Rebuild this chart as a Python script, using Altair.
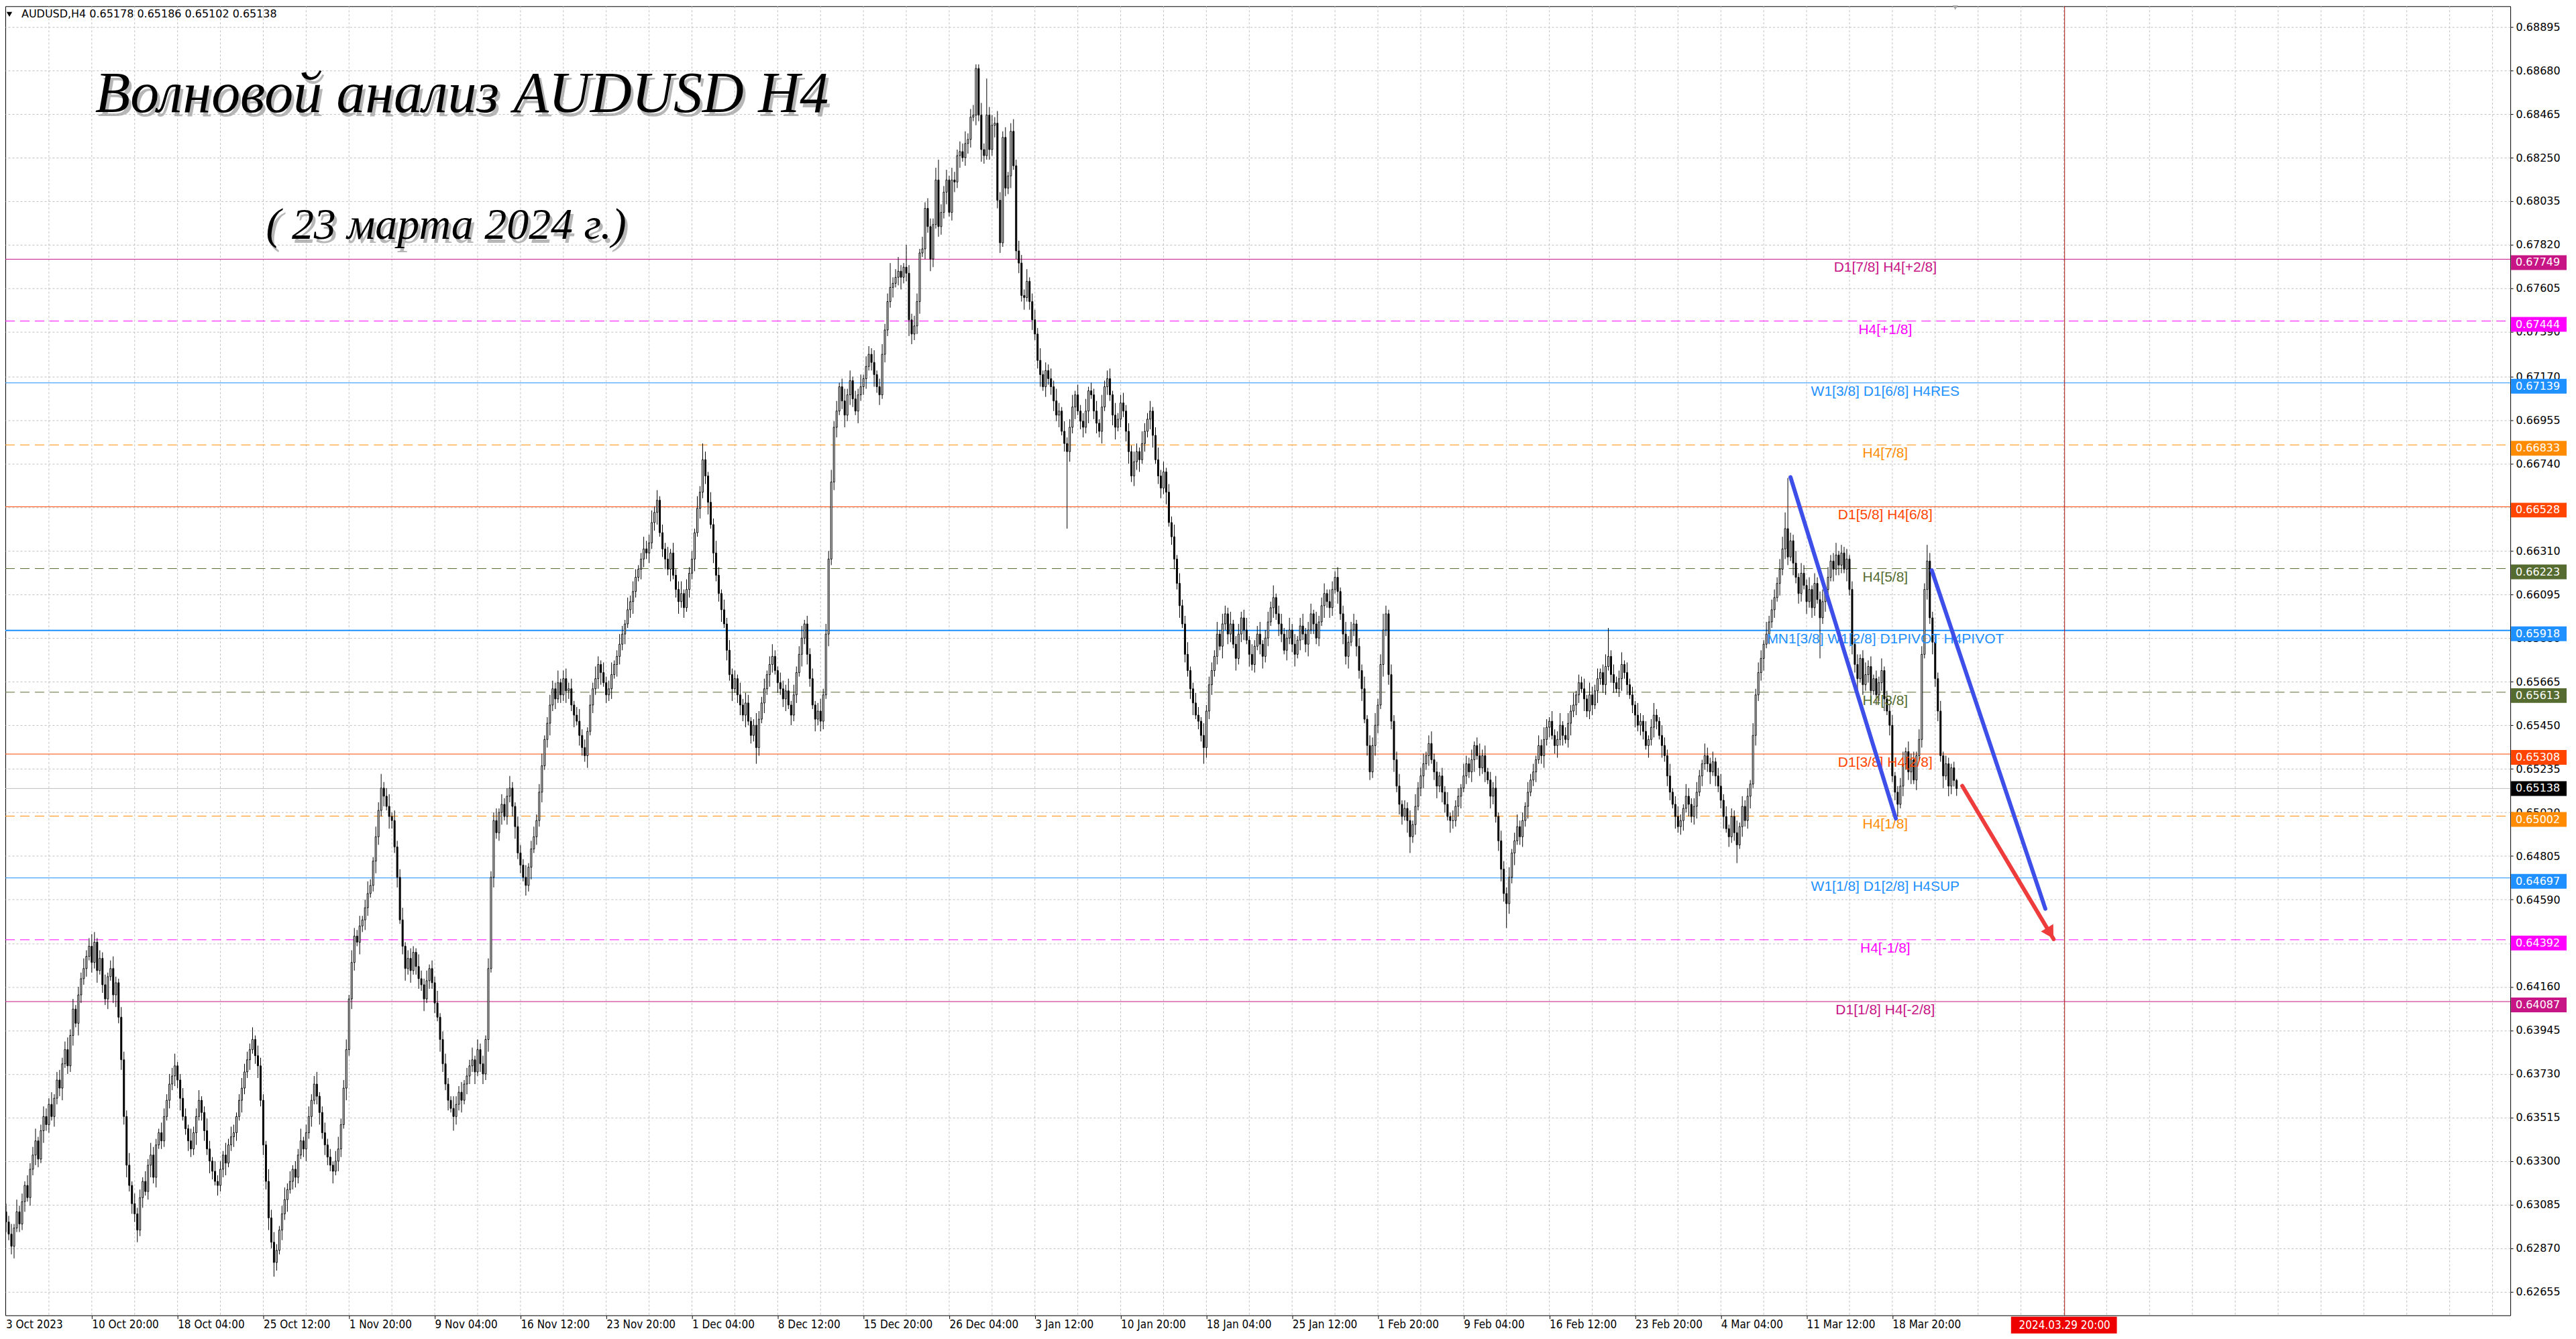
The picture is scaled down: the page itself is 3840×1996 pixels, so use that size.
import altair as alt
import pandas as pd

# ---------------- data (prices in pips, 1 pip = 0.0001) ----------------
OPEN0 = 6305
CLOSE_W = [
    [6300, 6294, 6288, 6297, 6305, 6299, 6310, 6318, 6312, 6326, 6333, 6340, 6331, 6345, 6352, 6348, 6358, 6352, 6361, 6370, 6366, 6378, 6385, 6377, 6392, 6405, 6398, 6412, 6420, 6425],
    [6431, 6436, 6428, 6438, 6424, 6430, 6417, 6410, 6421, 6425, 6412, 6418, 6401, 6380, 6352, 6328, 6318, 6309, 6304, 6296, 6312, 6320, 6315, 6328, 6333, 6322, 6338, 6344, 6340, 6352],
    [6360, 6368, 6372, 6377, 6370, 6361, 6352, 6346, 6340, 6336, 6344, 6352, 6360, 6354, 6345, 6336, 6330, 6325, 6320, 6318, 6326, 6333, 6329, 6338, 6342, 6344, 6352, 6360, 6366, 6374],
    [6380, 6385, 6390, 6382, 6377, 6360, 6338, 6320, 6302, 6290, 6280, 6286, 6296, 6304, 6311, 6316, 6320, 6326, 6322, 6333, 6340, 6336, 6344, 6352, 6360, 6368, 6362, 6354, 6344, 6338],
    [6332, 6328, 6325, 6330, 6336, 6348, 6366, 6385, 6410, 6428, 6441, 6438, 6446, 6449, 6455, 6462, 6466, 6478, 6490, 6503, 6514, 6510, 6505, 6500, 6498, 6485, 6470, 6449, 6436, 6425],
    [6430, 6424, 6433, 6426, 6420, 6417, 6410, 6419, 6425, 6418, 6408, 6401, 6390, 6378, 6368, 6360, 6356, 6352, 6358, 6364, 6360, 6368, 6372, 6377, 6380, 6374, 6385, 6378, 6373, 6390],
    [6425, 6470, 6498, 6492, 6502, 6506, 6500, 6510, 6514, 6505, 6495, 6482, 6476, 6470, 6466, 6475, 6484, 6490, 6498, 6512, 6525, 6538, 6546, 6555, 6563, 6558, 6566, 6560, 6568, 6562],
    [6563, 6555, 6550, 6547, 6540, 6534, 6530, 6542, 6555, 6563, 6568, 6575, 6571, 6566, 6560, 6563, 6570, 6575, 6579, 6585, 6590, 6595, 6602, 6606, 6611, 6618, 6622, 6627, 6632, 6630],
    [6635, 6645, 6650, 6656, 6640, 6632, 6627, 6622, 6630, 6619, 6612, 6606, 6610, 6603, 6612, 6620, 6627, 6640, 6652, 6660, 6676, 6668, 6655, 6644, 6630, 6619, 6610, 6602, 6595, 6582],
    [6570, 6563, 6568, 6560, 6555, 6550, 6556, 6547, 6540, 6545, 6534, 6548, 6556, 6563, 6570, 6575, 6579, 6572, 6566, 6563, 6558, 6562, 6555, 6550, 6560, 6571, 6580, 6588, 6595, 6580],
    [6568, 6555, 6548, 6552, 6547, 6560, 6590, 6627, 6665, 6692, 6700, 6712, 6705, 6698, 6708, 6715, 6706, 6700, 6708, 6712, 6716, 6722, 6728, 6724, 6718, 6712, 6708, 6728, 6740, 6754],
    [6761, 6763, 6766, 6769, 6766, 6771, 6768, 6745, 6738, 6742, 6754, 6778, 6780, 6800, 6791, 6775, 6792, 6814, 6791, 6798, 6808, 6814, 6798, 6814, 6813, 6826, 6828, 6825, 6832, 6834],
    [6845, 6846, 6869, 6846, 6829, 6826, 6846, 6829, 6841, 6842, 6804, 6783, 6835, 6810, 6816, 6838, 6821, 6779, 6773, 6757, 6756, 6764, 6754, 6745, 6738, 6725, 6718, 6712, 6720, 6716],
    [6712, 6705, 6698, 6700, 6690, 6684, 6680, 6692, 6702, 6708, 6700, 6695, 6692, 6700, 6710, 6708, 6700, 6694, 6690, 6702, 6712, 6716, 6708, 6698, 6692, 6696, 6704, 6700, 6690, 6680],
    [6668, 6675, 6680, 6676, 6684, 6690, 6696, 6700, 6688, 6676, 6668, 6662, 6670, 6660, 6645, 6638, 6627, 6615, 6604, 6595, 6580, 6572, 6563, 6556, 6550, 6547, 6540, 6534, 6552, 6565],
    [6572, 6579, 6590, 6584, 6595, 6600, 6590, 6595, 6585, 6578, 6590, 6598, 6592, 6587, 6580, 6575, 6584, 6590, 6585, 6579, 6588, 6596, 6603, 6608, 6600, 6595, 6590, 6582, 6588, 6592],
    [6585, 6580, 6587, 6594, 6590, 6585, 6592, 6600, 6595, 6588, 6596, 6604, 6610, 6606, 6603, 6612, 6618, 6611, 6600, 6590, 6579, 6586, 6592, 6595, 6584, 6572, 6563, 6548, 6535, 6522],
    [6535, 6545, 6555, 6575, 6592, 6600, 6570, 6547, 6528, 6515, 6506, 6500, 6504, 6498, 6490, 6496, 6505, 6514, 6520, 6526, 6530, 6536, 6528, 6522, 6515, 6520, 6512, 6506, 6500, 6498],
    [6498, 6505, 6510, 6514, 6520, 6526, 6522, 6528, 6535, 6530, 6524, 6530, 6522, 6518, 6510, 6514, 6500, 6488, 6474, 6462, 6457, 6470, 6482, 6488, 6495, 6490, 6498, 6505, 6512, 6518],
    [6522, 6528, 6535, 6530, 6538, 6544, 6547, 6540, 6535, 6538, 6545, 6540, 6538, 6546, 6552, 6555, 6560, 6566, 6563, 6558, 6552, 6560, 6555, 6562, 6568, 6571, 6565, 6574, 6579, 6570],
    [6566, 6563, 6568, 6575, 6571, 6565, 6560, 6555, 6550, 6545, 6547, 6542, 6535, 6538, 6544, 6550, 6547, 6540, 6535, 6530, 6520, 6512, 6506, 6500, 6495, 6498, 6504, 6510, 6506, 6500],
    [6505, 6512, 6520, 6526, 6530, 6526, 6522, 6527, 6520, 6515, 6508, 6500, 6494, 6490, 6500, 6492, 6486, 6495, 6505, 6498, 6510, 6516, 6540, 6560, 6571, 6578, 6585, 6590, 6596, 6602],
    [6608, 6615, 6622, 6632, 6642, 6628, 6636, 6625, 6618, 6610, 6620, 6614, 6606, 6612, 6603, 6615, 6607, 6598, 6606, 6612, 6618, 6626, 6622, 6629, 6624, 6630, 6622, 6627, 6612, 6585],
    [6575, 6568, 6578, 6565, 6570, 6574, 6562, 6568, 6560, 6566, 6572, 6558, 6552, 6545, 6520, 6512, 6506, 6515, 6526, 6532, 6522, 6528, 6518, 6530, 6538, 6580, 6612, 6626, 6598, 6586],
    [6568, 6552, 6530, 6520, 6526, 6515, 6524, 6517.8, 6513.8],
]
UPPER_WICK_W = [
    [4,3,5,2,6,3,4,2,5,3, 4,6,2,3,5,4,3,6,2,4, 5,3,4,6,3,5,2,4,3,5],
    [3,4,6,5,2,4,3,5,2,4, 6,3,2,5,4,3,6,2,5,3, 4,2,5,3,6,4,3,2,5,4],
    [3,5,4,6,2,3,5,4,2,6, 3,4,5,2,3,6,4,2,5,3, 4,2,6,3,5,4,2,3,5,4],
    [4,3,6,2,5,4,3,2,6,4, 5,3,2,4,6,3,5,2,4,3, 6,2,4,5,3,4,6,2,3,5],
    [3,4,2,5,6,3,4,5,2,6, 4,3,5,2,4,6,3,2,5,4, 7,3,4,6,2,5,3,4,6,2],
    [4,5,3,2,6,4,3,5,2,4, 3,6,2,4,5,3,2,6,4,3, 5,2,4,3,6,2,5,3,4,2],
    [5,3,4,6,2,5,3,4,6,3, 2,5,4,3,6,2,4,5,3,4, 6,2,3,5,4,3,6,2,4,5],
    [3,5,2,4,6,3,4,2,5,3, 6,4,2,5,3,4,6,2,3,5, 4,2,6,3,5,4,2,3,6,4],
    [4,6,3,5,2,4,3,6,2,5, 3,4,6,2,5,3,4,2,6,3, 8,4,2,5,3,6,4,2,5,3],
    [5,3,4,2,6,3,5,4,2,3, 6,4,3,5,2,4,6,3,2,5, 4,3,6,2,5,3,4,6,2,4],
    [3,5,2,4,6,3,5,4,6,3, 5,2,4,6,3,5,2,4,3,6, 2,5,4,3,6,2,4,5,3,4],
    [12,3,4,7,3,2,11,4,3,5, 4,2,6,3,5,4,3,6,10,4, 3,5,2,6,4,3,5,4,6,3],
    [4,5,2,2,6,3,18,4,5,3, 6,4,3,5,2,4,6,3,5,4, 3,6,2,4,5,3,6,2,4,3],
    [5,3,6,4,2,5,3,4,6,2, 5,3,4,6,2,4,3,5,2,6, 3,4,5,2,6,3,4,5,3,4],
    [3,5,4,2,6,4,3,5,2,4, 6,3,5,2,4,3,6,2,5,3, 4,6,2,3,5,4,2,6,3,4],
    [4,3,6,2,5,4,3,6,2,4, 5,3,4,6,2,5,3,4,6,2, 4,5,3,6,2,4,5,3,4,6],
    [3,5,2,4,6,3,4,5,2,6, 3,4,5,2,6,4,3,5,2,4, 6,3,4,5,2,4,3,6,2,5],
    [4,6,3,5,8,4,2,5,3,4, 6,2,4,3,5,2,6,3,4,5, 2,4,6,3,5,2,4,3,6,2],
    [5,3,4,2,6,4,3,5,2,4, 6,3,5,2,4,3,6,2,5,4, 3,5,2,4,6,3,4,2,5,3],
    [4,2,5,3,6,4,2,5,3,4, 6,2,4,5,3,6,2,4,3,5, 2,6,4,3,5,2,4,6,14,3],
    [5,3,4,6,2,5,3,4,2,6, 4,3,5,2,4,6,3,2,5,4, 3,6,2,4,5,3,2,6,4,3],
    [4,5,3,2,6,4,3,5,2,4, 6,3,5,2,4,3,6,2,5,3, 4,2,6,3,5,4,2,6,3,5],
    [4,3,5,6,8,25,4,3,6,2, 5,4,3,6,2,5,3,4,6,2, 5,3,4,6,2,4,3,5,2,4],
    [3,5,2,4,6,3,5,2,4,3, 6,2,4,3,5,2,3,4,6,2, 5,3,4,2,5,4,3,8,4,3],
    [4,3,5,2,4,3,2,3,0.8],
]
LOWER_WICK_W = [
    [5,3,4,6,2,4,3,5,2,4, 3,5,4,2,6,3,4,2,5,3, 4,6,2,4,3,5,2,6,4,3],
    [4,2,5,3,6,2,4,3,5,2, 4,6,3,5,4,6,3,5,4,6, 3,5,2,4,6,3,5,2,4,3],
    [2,4,3,5,4,6,2,3,5,4, 3,6,2,4,5,3,6,4,2,5, 3,4,6,2,3,5,4,2,6,3],
    [3,5,2,4,6,3,5,4,6,3, 7,4,2,5,3,6,2,4,5,3, 2,4,6,3,5,2,4,6,3,5],
    [4,3,6,2,5,4,2,6,3,5, 4,2,6,3,5,4,2,3,6,4, 3,5,2,6,4,3,5,2,4,6],
    [3,6,2,4,5,3,6,2,4,3, 5,2,6,4,3,5,2,7,4,3, 6,2,5,4,3,6,2,4,5,3],
    [6,2,5,3,4,6,2,4,3,5, 6,3,4,2,5,3,6,2,4,3, 5,2,4,6,3,5,2,4,3,6],
    [4,3,6,2,5,4,3,6,2,4, 3,5,6,2,4,3,5,2,6,4, 3,5,2,4,6,3,2,5,4,3],
    [5,3,4,6,2,4,5,3,6,2, 4,6,3,5,2,4,3,6,2,5, 3,4,6,2,5,3,4,6,2,5],
    [3,6,2,4,5,3,6,2,4,3, 8,4,2,5,3,6,4,2,5,3, 4,6,2,5,3,4,2,6,3,5],
    [4,2,6,3,5,4,2,6,3,4, 5,2,4,6,3,5,4,2,6,3, 4,5,2,4,6,3,5,2,4,3],
    [3,5,2,4,6,3,4,8,5,3, 4,6,2,5,3,6,4,2,5,4, 3,6,2,4,5,3,6,2,4,5],
    [4,2,5,3,6,4,2,5,3,6, 4,5,2,4,3,6,2,4,5,3, 6,2,4,5,3,4,6,2,5,3],
    [4,5,3,6,2,4,38,5,3,6, 2,4,5,3,6,2,4,5,3,6, 2,4,3,5,6,2,4,3,5,6],
    [3,5,4,6,2,4,3,5,6,2, 4,5,3,6,2,4,5,3,6,2, 4,3,5,6,2,4,3,8,5,4],
    [5,3,4,2,6,3,5,4,2,6, 3,4,5,2,6,3,4,2,5,6, 3,4,2,5,3,6,4,2,5,3],
    [4,6,2,5,3,4,6,2,5,3, 4,2,6,3,5,4,2,6,3,5, 4,6,2,3,5,4,6,2,5,4],
    [3,5,4,2,6,3,5,4,6,3, 5,4,2,6,8,3,5,2,4,6, 3,5,2,4,6,3,5,4,2,6],
    [4,3,5,6,2,4,3,5,6,2, 4,3,5,2,6,4,3,5,6,4, 12,5,3,6,2,4,5,3,6,2],
    [3,5,2,4,6,3,5,2,4,6, 3,5,2,4,6,3,5,4,2,6, 3,4,5,2,6,3,4,5,2,4],
    [5,2,4,6,3,5,2,4,6,3, 5,4,2,6,3,5,4,2,6,3, 5,4,2,6,3,4,5,2,6,3],
    [4,6,2,5,3,4,6,2,5,3, 4,6,2,5,3,4,9,2,5,3, 4,6,2,5,3,4,6,2,5,3],
    [4,2,6,3,5,4,2,6,3,5, 4,2,6,3,5,4,2,20,3,5, 4,2,6,3,5,4,2,6,3,5],
    [4,6,2,5,3,4,6,2,5,3, 4,6,2,5,3,4,6,2,5,3, 4,6,2,5,3,4,2,5,3,6],
    [4,5,3,6,2,5,4,3,3.6],
]

DATE_LABELS = ["10 Oct 20:00", "18 Oct 04:00", "25 Oct 12:00", "1 Nov 20:00", "9 Nov 04:00",
               "16 Nov 12:00", "23 Nov 20:00", "1 Dec 04:00", "8 Dec 12:00", "15 Dec 20:00",
               "26 Dec 04:00", "3 Jan 12:00", "10 Jan 20:00", "18 Jan 04:00", "25 Jan 12:00",
               "1 Feb 20:00", "9 Feb 04:00", "16 Feb 12:00", "23 Feb 20:00", "4 Mar 04:00",
               "11 Mar 12:00", "18 Mar 20:00"]
FIRST_DATE = "3 Oct 2023"
BARS_PER_LABEL = 32

PRICE_TICKS = [0.68895, 0.68680, 0.68465, 0.68250, 0.68035, 0.67820, 0.67605, 0.67390, 0.67170,
               0.66955, 0.66740, 0.66525, 0.66310, 0.66095, 0.65880, 0.65665, 0.65450, 0.65235,
               0.65020, 0.64805, 0.64590, 0.64375, 0.64160, 0.63945, 0.63730, 0.63515, 0.63300,
               0.63085, 0.62870, 0.62655]

LEVEL_PRICE = [0.67749, 0.67444, 0.67139, 0.66833, 0.66528, 0.66223, 0.65918, 0.65613,
               0.65308, 0.65002, 0.64697, 0.64392, 0.64087]
LEVEL_TEXT = ["D1[7/8] H4[+2/8]", "H4[+1/8]", "W1[3/8] D1[6/8] H4RES", "H4[7/8]",
              "D1[5/8] H4[6/8]", "H4[5/8]", "MN1[3/8] W1[2/8] D1PIVOT H4PIVOT", "H4[3/8]",
              "D1[3/8] H4[2/8]", "H4[1/8]", "W1[1/8] D1[2/8] H4SUP", "H4[-1/8]", "D1[1/8] H4[-2/8]"]
LAST_PRICE = 0.65138
HEADER = "AUDUSD,H4  0.65178 0.65186 0.65102 0.65138"
TITLE = "Волновой анализ AUDUSD H4"
SUBTITLE = "( 23 марта 2024 г.)"
VLINE_BAR = [768.3]
VLINE_LABEL = "2024.03.29 20:00"
SHIFT_MARK_BAR = [727.5]

TREND1_BAR = [666.0, 705.3]
TREND1_PRICE = [0.66674, 0.64990]
TREND2_BAR = [718.7, 761.1]
TREND2_PRICE = [0.66215, 0.64545]
ARROW_BAR = [730.1, 764.2]
ARROW_PRICE = [0.65151, 0.64395]

# ---------------- styles ----------------
LEVEL_COLORS = ["#C71585", "#FF00FF", "#1E90FF", "#FF8C00", "#FF4500", "#556B2F", "#1E90FF",
                "#556B2F", "#FF4500", "#FF8C00", "#1E90FF", "#FF00FF", "#C71585"]
LEVEL_DASHED = [False, True, False, True, False, True, False, True, False, True, False, True, False]
LEVEL_WIDTH = [1, 1, 1, 1, 1, 1, 2, 1, 1, 1, 1, 1, 1]
NARROW = "Liberation Sans Narrow, DejaVu Sans Condensed, Liberation Sans, sans-serif"

W, H = 3739, 1954
X0, X1 = 0.998, 933.4
Y0, Y1 = 0.625392, 0.68997

# ---------------- build tables ----------------
CLOSE = [v for wk in CLOSE_W for v in wk]
UW = [v for wk in UPPER_WICK_W for v in wk]
LW = [v for wk in LOWER_WICK_W for v in wk]
assert len(CLOSE) == len(UW) == len(LW), (len(CLOSE), len(UW), len(LW))

rows = []
prev = OPEN0
for i, c in enumerate(CLOSE):
    o = prev
    rows.append(dict(i=i, o=o / 1e4, c=c / 1e4,
                     h=(max(o, c) + UW[i]) / 1e4, l=(min(o, c) - LW[i]) / 1e4,
                     fill="#ffffff" if c >= o else "#000000"))
    prev = c
candles = pd.DataFrame(rows)

levels = pd.DataFrame(dict(p=LEVEL_PRICE, t=LEVEL_TEXT, col=LEVEL_COLORS, dash=LEVEL_DASHED,
                           w=LEVEL_WIDTH, lab=[f"{p:.5f}" for p in LEVEL_PRICE]))
last = pd.DataFrame(dict(p=[LAST_PRICE], lab=[f"{LAST_PRICE:.5f}"]))
vgrid = pd.DataFrame(dict(i=list(range(16, int(X1) + 1, 16))))
vline = pd.DataFrame(dict(i=VLINE_BAR, t=[VLINE_LABEL]))
shift = pd.DataFrame(dict(i=SHIFT_MARK_BAR))
trend = pd.DataFrame(dict(i=TREND1_BAR + TREND2_BAR, p=TREND1_PRICE + TREND2_PRICE,
                          g=["a", "a", "b", "b"]))
arrow = pd.DataFrame(dict(i=ARROW_BAR, p=ARROW_PRICE))
arrow_tip = arrow.iloc[[1]]

xsc = alt.Scale(domain=[X0, X1], nice=False, zero=False)
ysc = alt.Scale(domain=[Y0, Y1], nice=False, zero=False)

label_arr = "[" + ",".join(f"'{s}'" for s in DATE_LABELS) + "]"
xaxis = alt.Axis(values=[BARS_PER_LABEL * (k + 1) for k in range(len(DATE_LABELS))],
                 labelExpr=f"{label_arr}[round(datum.value/{BARS_PER_LABEL})-1]",
                 orient="bottom", grid=False, domain=False, ticks=True, tickSize=5,
                 tickColor="black", labelAlign="left", labelBaseline="top", labelPadding=1,
                 labelFont=NARROW, labelFontSize=17, labelColor="black",
                 labelOverlap=False, labelBound=False, labelFlush=False, title=None)
yaxis = alt.Axis(values=PRICE_TICKS, format=".5f", orient="right", grid=True,
                 gridColor="#C0C0C0", gridDash=[3, 3], gridWidth=1, domain=False,
                 tickSize=4, tickColor="black", labelPadding=4, labelFont="DejaVu Sans",
                 labelFontSize=16, labelColor="black", labelOverlap=False, labelBound=False,
                 title=None)

def X(f="i:Q"):
    return alt.X(f, scale=xsc, axis=xaxis, title=None)

def Y(f="p:Q"):
    return alt.Y(f, scale=ysc, axis=yaxis, title=None)

wicks = alt.Chart(candles).mark_rule(color="black", strokeWidth=1, clip=True).encode(
    x=X("i:Q"), y=Y("l:Q"), y2="h:Q")

vgrid_l = alt.Chart(vgrid).mark_rule(color="#C0C0C0", strokeDash=[3, 3], strokeWidth=1).encode(
    x=X(), y=alt.value(0), y2=alt.value(H))

solid = alt.Chart(levels[~levels.dash]).mark_rule().encode(
    y=Y(), x=alt.value(0), x2=alt.value(W),
    color=alt.Color("col:N", scale=None), strokeWidth=alt.StrokeWidth("w:Q", scale=None))
dashed = alt.Chart(levels[levels.dash]).mark_rule(strokeDash=[14, 8], strokeWidth=1).encode(
    y=Y(), x=alt.value(0), x2=alt.value(W), color=alt.Color("col:N", scale=None))
lastline = alt.Chart(last).mark_rule(color="#C0C0C0", strokeWidth=1).encode(
    y=Y(), x=alt.value(0), x2=alt.value(W))
vline_l = alt.Chart(vline).mark_rule(color="#B01010", strokeWidth=1).encode(
    x=X(), y=alt.value(0), y2=alt.value(H))

bodies = alt.Chart(candles).mark_bar(width=2, stroke="black", strokeWidth=1, clip=True,
                                     orient="vertical").encode(
    x=X(), y=Y("o:Q"), y2="c:Q", fill=alt.Fill("fill:N", scale=None))

level_txt = alt.Chart(levels).mark_text(align="center", baseline="top", dy=2,
                                        font="Liberation Sans", fontSize=21).encode(
    y=Y(), x=alt.value(2806), text="t:N", color=alt.Color("col:N", scale=None))

trend_l = alt.Chart(trend).mark_line(strokeWidth=6, strokeCap="round", color="#3D4FE8",
                                     clip=True).encode(x=X(), y=Y(), detail="g:N")
arrow_l = alt.Chart(arrow).mark_line(strokeWidth=6, strokeCap="round", color="#EE3B3B").encode(
    x=X(), y=Y())
arrow_h = alt.Chart(arrow_tip).mark_point(shape="triangle-up", angle=149, size=460, filled=True,
                                          color="#EE3B3B", opacity=1, xOffset=-5,
                                          yOffset=-9).encode(x=X(), y=Y())

shift_mark = alt.Chart(shift).mark_point(shape="triangle-down", filled=True, color="#A8A8A8",
                                         opacity=1, size=110).encode(x=X(), y=alt.value(1))

boxes = alt.Chart(levels).mark_rect(yOffset=-6, y2Offset=16).encode(
    y=Y(), y2="p:Q", x=alt.value(W + 1), x2=alt.value(W + 84),
    fill=alt.Fill("col:N", scale=None))
box_txt = alt.Chart(levels).mark_text(align="left", baseline="middle", dy=5, color="white",
                                      font="DejaVu Sans", fontSize=16).encode(
    y=Y(), x=alt.value(W + 8), text="lab:N")
lastbox = alt.Chart(last).mark_rect(yOffset=-11, y2Offset=11, color="black").encode(
    y=Y(), y2="p:Q", x=alt.value(W + 1), x2=alt.value(W + 84))
lastbox_txt = alt.Chart(last).mark_text(align="left", baseline="middle", color="white",
                                        font="DejaVu Sans", fontSize=16).encode(
    y=Y(), x=alt.value(W + 8), text="lab:N")

datebox = alt.Chart(vline).mark_rect(color="#EE0000", xOffset=-80, x2Offset=78).encode(
    x=X(), x2="i:Q", y=alt.value(H + 2), y2=alt.value(H + 27))
datebox_txt = alt.Chart(vline).mark_text(align="center", baseline="middle", color="white",
                                         font=NARROW, fontSize=17).encode(
    x=X(), y=alt.value(H + 15), text="t:N")
first_date = alt.Chart(pd.DataFrame(dict(t=[FIRST_DATE]))).mark_text(
    align="left", baseline="top", font=NARROW, fontSize=17, color="black").encode(
    x=alt.value(1), y=alt.value(H + 6), text="t:N")

hdr_tri = alt.Chart(pd.DataFrame(dict(t=[0]))).mark_point(
    shape="triangle-down", filled=True, color="black", size=70, opacity=1).encode(
    x=alt.value(6), y=alt.value(12))
hdr_txt = alt.Chart(pd.DataFrame(dict(t=[HEADER]))).mark_text(
    align="left", baseline="middle", font="DejaVu Sans", fontSize=16, color="black").encode(
    x=alt.value(24), y=alt.value(12), text="t:N")

def script_text(txt, x, y, size):
    d = pd.DataFrame(dict(t=[txt]))
    shadow = alt.Chart(d).mark_text(align="left", baseline="alphabetic", font="Liberation Serif",
                                    fontStyle="italic", fontSize=size, color="#9A9A9A",
                                    opacity=0.7, dx=4, dy=6).encode(
        x=alt.value(x), y=alt.value(y), text="t:N")
    main = alt.Chart(d).mark_text(align="left", baseline="alphabetic", font="Liberation Serif",
                                  fontStyle="italic", fontSize=size, color="black").encode(
        x=alt.value(x), y=alt.value(y), text="t:N")
    return [shadow, main]

titles = script_text(TITLE, 134, 158, 86) + script_text(SUBTITLE, 389, 347, 66)

chart = alt.layer(
    vgrid_l, solid, dashed, lastline, vline_l, wicks, bodies, level_txt,
    trend_l, arrow_l, arrow_h, shift_mark, *titles, hdr_tri, hdr_txt,
    boxes, box_txt, lastbox, lastbox_txt, datebox, datebox_txt, first_date,
).properties(
    width=W, height=H,
    autosize=alt.AutoSizeParams(type="none"),
    padding={"left": 0, "top": 0, "right": 90, "bottom": 28},
    background="white",
).configure_view(stroke="black", strokeWidth=1)

chart.save("out.html", embed_options={"renderer": "svg", "actions": False})
